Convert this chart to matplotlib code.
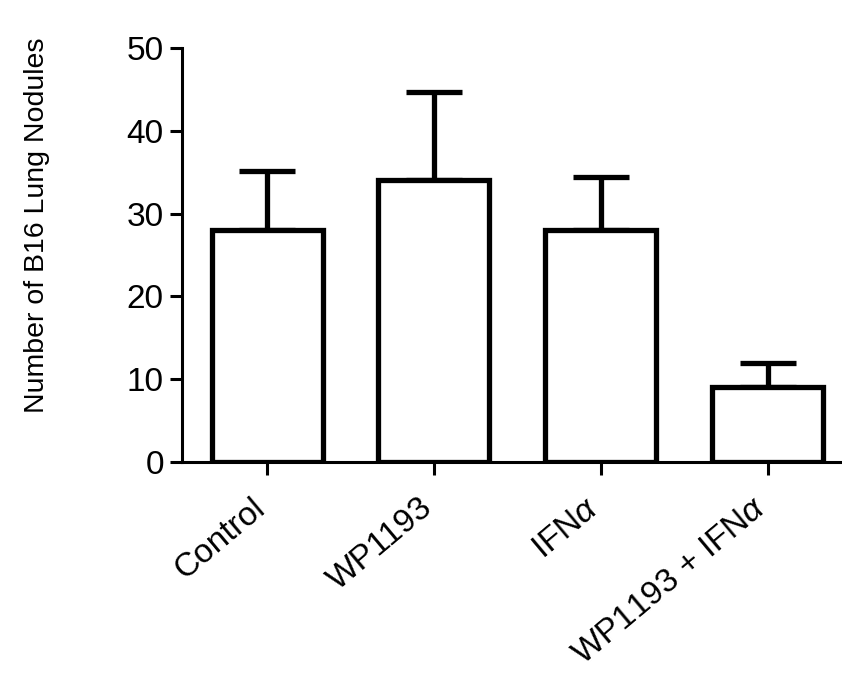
import numpy as np
import matplotlib
matplotlib.use("Agg")
import matplotlib.pyplot as plt

# data
groups = ["Control", "WP1193", "IFN$\\alpha$", "WP1193 + IFN$\\alpha$"]
means = [28.0, 34.0, 28.0, 9.0]
sem_up = [7.2, 10.7, 6.4, 3.0]

plt.rcParams['font.family'] = ['Liberation Sans', 'DejaVu Sans']
plt.rcParams['mathtext.fontset'] = 'custom'
plt.rcParams['mathtext.it'] = 'Liberation Sans:italic'

fig = plt.figure(figsize=(8.42, 6.88), dpi=100)
ax = fig.add_axes([0.216, 0.3285, 0.797, 0.6017])

x = np.arange(len(groups))
ax.bar(x, means, width=0.665, facecolor='white', edgecolor='black',
       linewidth=3.8, zorder=2)
ax.errorbar(x, means, yerr=[np.zeros(len(means)), sem_up], fmt='none',
            ecolor='black', elinewidth=3.8, capsize=20, capthick=3.8, zorder=1)

ax.set_xlim(-0.51, 3.51)
ax.set_ylim(0, 50)
ax.set_yticks([0, 10, 20, 30, 40, 50])
ax.set_xticks(x)
ax.set_xticklabels(groups, rotation=40, ha='right', va='baseline',
                   rotation_mode='anchor', fontsize=24)
ax.tick_params(axis='y', labelsize=24, length=9, width=2.2, pad=4)
ax.tick_params(axis='x', length=9, width=2.2, pad=26)

for side in ['top', 'right']:
    ax.spines[side].set_visible(False)
for side in ['left', 'bottom']:
    ax.spines[side].set_linewidth(2.2)

ax.set_ylabel("Number of B16 Lung Nodules", fontsize=20.5)
ax.yaxis.set_label_coords(-0.196, 0.572)

fig.savefig("out.png", dpi=100)
